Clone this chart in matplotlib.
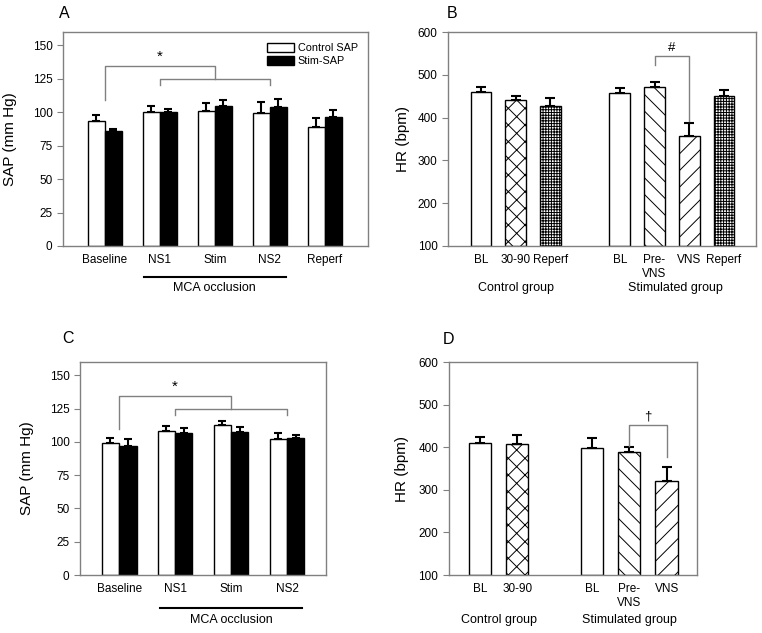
import matplotlib
matplotlib.use("Agg")
import matplotlib.pyplot as plt
import numpy as np

plt.rcParams['font.family'] = ['Liberation Sans', 'DejaVu Sans']
plt.rcParams['hatch.linewidth'] = 0.7

# Panel A: SAP, five periods
sap_cats_a = ['Baseline', 'NS1', 'Stim', 'NS2', 'Reperf']
ctrl_sap_a = [93.5, 100.5, 100.7, 99.5, 89.0]
ctrl_err_a = [4.3, 4.2, 6.0, 8.2, 6.5]
stim_sap_a = [86.0, 100.5, 104.5, 104.0, 96.5]
stim_err_a = [1.6, 2.0, 5.0, 6.0, 5.2]

# Panel B: HR
hr_labels_b = ['BL', '30-90', 'Reperf', 'BL', 'Pre-\nVNS', 'VNS', 'Reperf']
hr_pos_b = [0, 1, 2, 4, 5, 6, 7]
hr_b = [459, 440, 427, 458, 472, 356, 451]
hr_err_b = [12, 11, 19, 12, 12, 31, 13]
hatch_b = ['', 'xx', '++++++', '', '\\\\', '//', '++++++']

# Panel C: SAP, four periods
sap_cats_c = ['Baseline', 'NS1', 'Stim', 'NS2']
ctrl_sap_c = [99.0, 108.5, 113.0, 102.5]
ctrl_err_c = [4.0, 3.2, 3.0, 4.5]
stim_sap_c = [97.0, 106.7, 107.7, 102.7]
stim_err_c = [5.5, 4.0, 3.3, 2.5]

# Panel D: HR
hr_labels_d = ['BL', '30-90', 'BL', 'Pre-\nVNS', 'VNS']
hr_pos_d = [0, 1, 3, 4, 5]
hr_d = [411, 407, 397, 389, 320]
hr_err_d = [12, 21, 25, 12, 34]
hatch_d = ['', 'xx', '', '\\\\', '//']

GRAY = '#808080'
TICK_FS = 8.5
LABEL_FS = 11
GROUP_FS = 9

fig = plt.figure(figsize=(7.62, 6.33), dpi=100)
axA = fig.add_axes([0.0827, 0.6114, 0.400, 0.338])
axB = fig.add_axes([0.588, 0.6114, 0.404, 0.338])
axC = fig.add_axes([0.105, 0.0916, 0.323, 0.3365])
axD = fig.add_axes([0.589, 0.0916, 0.326, 0.3365])


def style(ax):
    for s in ax.spines.values():
        s.set_color(GRAY)
        s.set_linewidth(1)
    ax.tick_params(axis='x', length=0, labelsize=TICK_FS, pad=6)
    ax.tick_params(axis='y', length=4, color=GRAY, labelsize=TICK_FS)


def sap_panel(ax, cats, ctrl, ctrl_err, stim, stim_err, xlim, legend):
    x = np.arange(len(cats))
    w = 0.31
    ekw = dict(elinewidth=1.5, capsize=3, capthick=1.5, ecolor='black')
    ax.bar(x - w / 2, ctrl, w, color='white', edgecolor='black', linewidth=1,
           yerr=[np.zeros(len(x)), ctrl_err], error_kw=ekw, label='Control SAP')
    ax.bar(x + w / 2, stim, w, color='black', edgecolor='black', linewidth=1,
           yerr=[np.zeros(len(x)), stim_err], error_kw=ekw, label='Stim-SAP')
    ax.set_ylim(0, 160)
    ax.set_yticks(np.arange(0, 151, 25))
    ax.set_xlim(*xlim)
    ax.set_xticks(x)
    ax.set_xticklabels(cats)
    ax.set_ylabel('SAP (mm Hg)', fontsize=LABEL_FS)
    style(ax)
    # significance brackets
    ax.plot([0, 0, 2, 2], [109.5, 134.6, 134.6, 124.6], color=GRAY, lw=1)
    ax.plot([1, 1, 3, 3], [120.3, 124.6, 124.6, 120.3], color=GRAY, lw=1)
    ax.text(1.0, 136.5, '*', ha='center', va='bottom', fontsize=11)
    if legend:
        ax.legend(loc='upper right', bbox_to_anchor=(1.0, 0.995), frameon=False,
                  fontsize=7.8, handlelength=2.5, handleheight=0.9,
                  handletextpad=0.4, labelspacing=0.25)


def hr_panel(ax, pos, labels, vals, errs, hatches, xlim):
    for p, v, e, h in zip(pos, vals, errs, hatches):
        ax.bar(p, v - 100, 0.6, bottom=100, color='white', edgecolor='black',
               linewidth=1, hatch=h, yerr=[[0], [e]],
               error_kw=dict(elinewidth=1.5, capsize=3.5, capthick=1.5,
                             ecolor='black'))
    ax.set_ylim(100, 600)
    ax.set_yticks(np.arange(100, 601, 100))
    ax.set_xlim(*xlim)
    ax.set_xticks(pos)
    ax.set_xticklabels(labels)
    ax.set_ylabel('HR (bpm)', fontsize=LABEL_FS)
    style(ax)


sap_panel(axA, sap_cats_a, ctrl_sap_a, ctrl_err_a, stim_sap_a, stim_err_a,
          (-0.76, 4.78), True)
sap_panel(axC, sap_cats_c, ctrl_sap_c, ctrl_err_c, stim_sap_c, stim_err_c,
          (-0.70, 3.70), False)
axA.yaxis.set_label_coords(-0.15, 0.5)
axC.yaxis.set_label_coords(-0.185, 0.5)

hr_panel(axB, hr_pos_b, hr_labels_b, hr_b, hr_err_b, hatch_b, (-0.95, 7.92))
hr_panel(axD, hr_pos_d, hr_labels_d, hr_d, hr_err_d, hatch_d, (-0.83, 5.82))
axB.yaxis.set_label_coords(-0.125, 0.5)
axD.yaxis.set_label_coords(-0.16, 0.5)

# brackets in HR panels
axB.plot([5, 5, 6, 6], [524, 544, 544, 392], color=GRAY, lw=1)
axB.text(5.5, 548, '#', ha='center', va='bottom', fontsize=9.5)
axD.plot([4, 4, 5, 5], [404, 452, 452, 378], color=GRAY, lw=1)
axD.text(4.5, 458, '\u2020', ha='center', va='bottom', fontsize=9.5)

# MCA occlusion line and group labels
for ax, x0, x1, yl, yt in [(axA, 0.71, 3.29, -0.145, -0.196),
                           (axC, 0.73, 3.27, -0.155, -0.211)]:
    tr = ax.get_xaxis_transform()
    ax.plot([x0, x1], [yl, yl], color='black', lw=1.5, transform=tr, clip_on=False)
    ax.text(2, yt, 'MCA occlusion', transform=tr, ha='center', va='center',
            fontsize=GROUP_FS)

for ax, xc, xs, yt in [(axB, 1.0, 5.6, -0.196), (axD, 0.5, 4.0, -0.211)]:
    tr = ax.get_xaxis_transform()
    ax.text(xc, yt, 'Control group', transform=tr, ha='center', va='center',
            fontsize=GROUP_FS)
    ax.text(xs, yt, 'Stimulated group', transform=tr, ha='center', va='center',
            fontsize=GROUP_FS)

# panel letters
for lab, x, y in [('A', 0.085, 0.978), ('B', 0.593, 0.979),
                  ('C', 0.089, 0.466), ('D', 0.588, 0.463)]:
    fig.text(x, y, lab, ha='center', va='center', fontsize=11.5)

fig.savefig('out.png', dpi=100)
